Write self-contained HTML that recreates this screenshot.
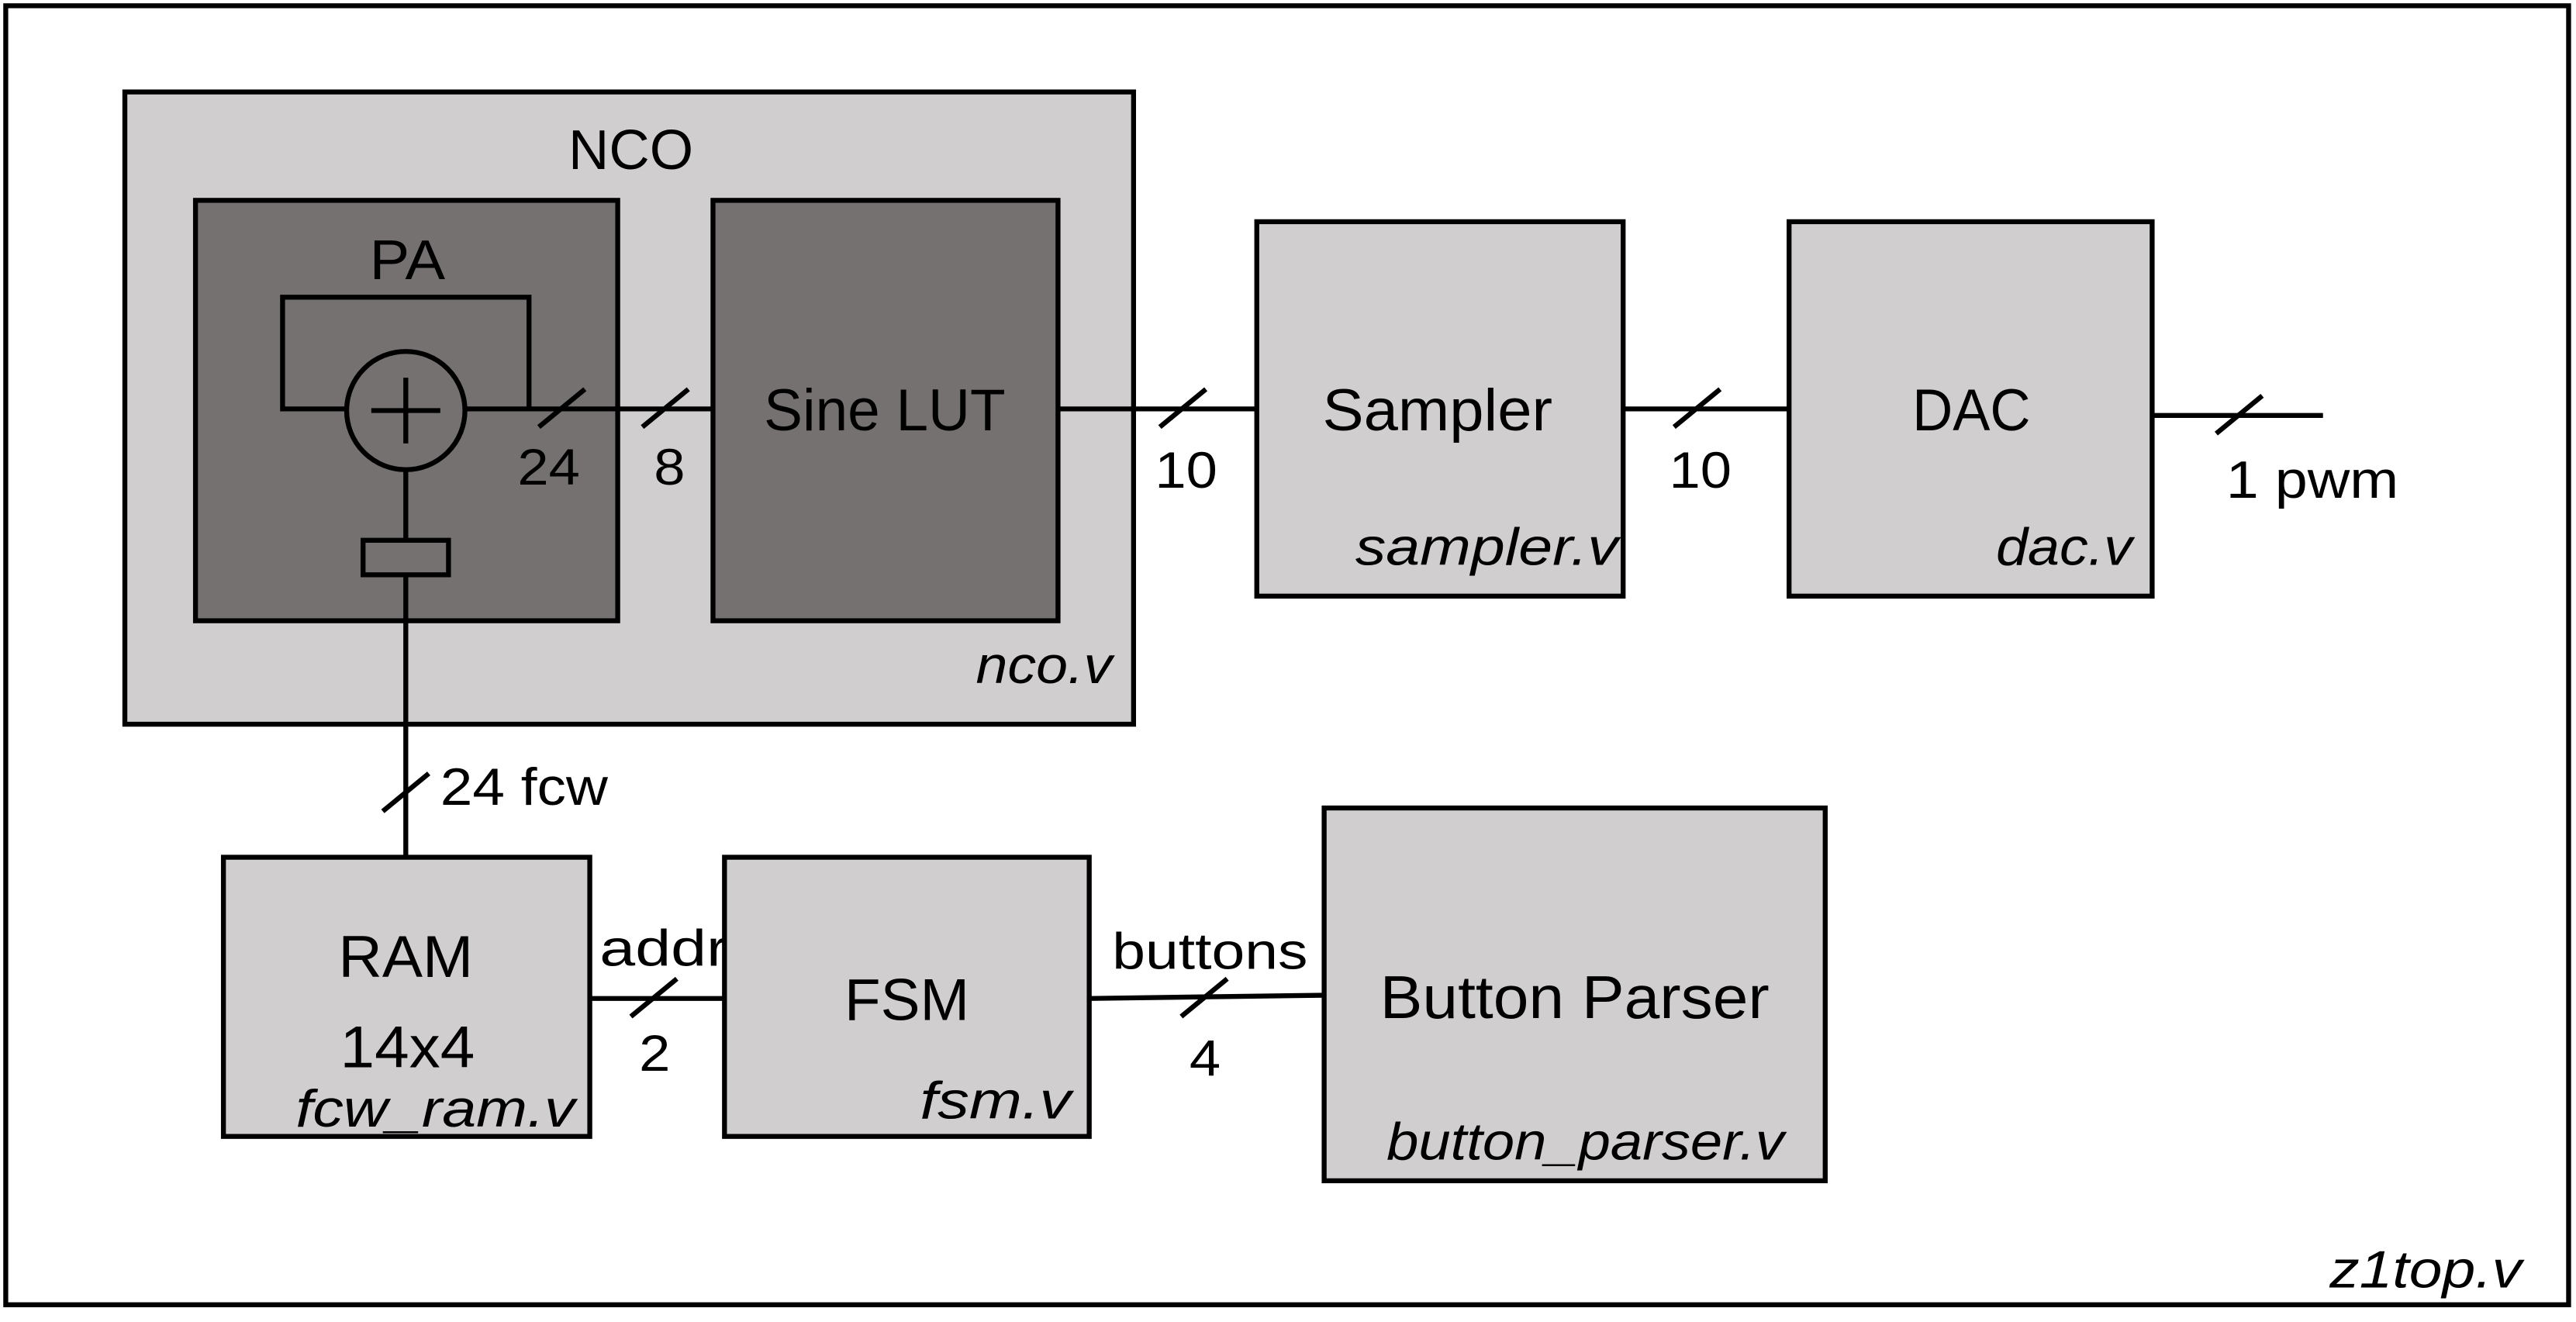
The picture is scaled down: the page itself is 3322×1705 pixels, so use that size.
<!DOCTYPE html>
<html><head><style>html,body{margin:0;padding:0;background:#fff}svg{display:block}</style></head>
<body>
<svg width="3322" height="1705" viewBox="0 0 1568 805" preserveAspectRatio="none" xmlns="http://www.w3.org/2000/svg" font-family="Liberation Sans, sans-serif" fill="#000">
<rect x="3.5" y="3.5" width="1560" height="791" fill="#fff" stroke="#000" stroke-width="3"/>
<g stroke="#000" stroke-width="3">
<rect x="76" y="56" width="614" height="385" fill="#d0cecf"/>
<rect x="119" y="122" width="257" height="256" fill="#747170"/>
<rect x="434" y="122" width="210" height="256" fill="#747170"/>
<rect x="765" y="135" width="223" height="228" fill="#d0cecf"/>
<rect x="1089" y="135" width="221" height="228" fill="#d0cecf"/>
<rect x="136" y="522" width="223" height="170" fill="#d0cecf"/>
<rect x="441" y="522" width="222" height="170" fill="#d0cecf"/>
<rect x="806" y="492" width="305" height="227" fill="#d0cecf"/>
<polyline points="211,249 172,249 172,181 322,181 322,249" fill="none"/>
<line x1="284" y1="249" x2="434" y2="249"/>
<circle cx="247" cy="250" r="36" fill="none"/>
<line x1="247" y1="230" x2="247" y2="270"/>
<line x1="226" y1="250" x2="268" y2="250"/>
<line x1="247" y1="286" x2="247" y2="329"/>
<rect x="221" y="329" width="52" height="21" fill="none"/>
<line x1="247" y1="350" x2="247" y2="522"/>
<line x1="644" y1="249" x2="765" y2="249"/>
<line x1="988" y1="249" x2="1089" y2="249"/>
<line x1="1310" y1="253" x2="1414" y2="253"/>
<line x1="359" y1="608" x2="441" y2="608"/>
<line x1="663" y1="608" x2="806" y2="606"/>
<line x1="328" y1="260" x2="356" y2="237"/>
<line x1="391" y1="260" x2="419" y2="237"/>
<line x1="706" y1="260" x2="734" y2="237"/>
<line x1="1019" y1="260" x2="1047" y2="237"/>
<line x1="1349" y1="264" x2="1377" y2="241"/>
<line x1="233" y1="494" x2="261" y2="471"/>
<line x1="384" y1="619" x2="412" y2="596"/>
<line x1="719" y1="619" x2="747" y2="596"/>
</g>
<g font-size="34">
<text x="346" y="103" textLength="76" lengthAdjust="spacingAndGlyphs">NCO</text>
<text x="225" y="170" textLength="46" lengthAdjust="spacingAndGlyphs">PA</text>
<text x="465" y="262" font-size="36" textLength="147" lengthAdjust="spacingAndGlyphs">Sine LUT</text>
<text x="805" y="262" font-size="36" textLength="140" lengthAdjust="spacingAndGlyphs">Sampler</text>
<text x="1164" y="262" font-size="36" textLength="72" lengthAdjust="spacingAndGlyphs">DAC</text>
<text x="206" y="595" font-size="36" textLength="82" lengthAdjust="spacingAndGlyphs">RAM</text>
<text x="207" y="650" font-size="36" textLength="82" lengthAdjust="spacingAndGlyphs">14x4</text>
<text x="514" y="621" font-size="36" textLength="76" lengthAdjust="spacingAndGlyphs">FSM</text>
<text x="840" y="620" font-size="37" textLength="237" lengthAdjust="spacingAndGlyphs">Button Parser</text>
<text x="315" y="295" font-size="31" textLength="38" lengthAdjust="spacingAndGlyphs">24</text>
<text x="398" y="295" font-size="31" textLength="19" lengthAdjust="spacingAndGlyphs">8</text>
<text x="703" y="297" font-size="31" textLength="38" lengthAdjust="spacingAndGlyphs">10</text>
<text x="1016" y="297" font-size="31" textLength="38" lengthAdjust="spacingAndGlyphs">10</text>
<text x="365" y="588" font-size="31" textLength="78" lengthAdjust="spacingAndGlyphs">addr</text>
<text x="389" y="652" font-size="31" textLength="19" lengthAdjust="spacingAndGlyphs">2</text>
<text x="677" y="590" font-size="31" textLength="119" lengthAdjust="spacingAndGlyphs">buttons</text>
<text x="724" y="655" font-size="31" textLength="19" lengthAdjust="spacingAndGlyphs">4</text>
<text x="268" y="490" font-size="32" textLength="102" lengthAdjust="spacingAndGlyphs">24 fcw</text>
<text x="1355" y="303" font-size="32" textLength="105" lengthAdjust="spacingAndGlyphs">1 pwm</text>
</g>
<g font-size="32" font-style="italic">
<text x="594" y="416" textLength="83" lengthAdjust="spacingAndGlyphs">nco.v</text>
<text x="825" y="344" textLength="160" lengthAdjust="spacingAndGlyphs">sampler.v</text>
<text x="1215" y="344" textLength="83" lengthAdjust="spacingAndGlyphs">dac.v</text>
<text x="180" y="686" textLength="170" lengthAdjust="spacingAndGlyphs">fcw_ram.v</text>
<text x="560" y="681" textLength="92" lengthAdjust="spacingAndGlyphs">fsm.v</text>
<text x="844" y="706" textLength="242" lengthAdjust="spacingAndGlyphs">button_parser.v</text>
<text x="420" y="784" dx="998" textLength="117" lengthAdjust="spacingAndGlyphs">z1top.v</text>
</g>
</svg>
</body></html>
